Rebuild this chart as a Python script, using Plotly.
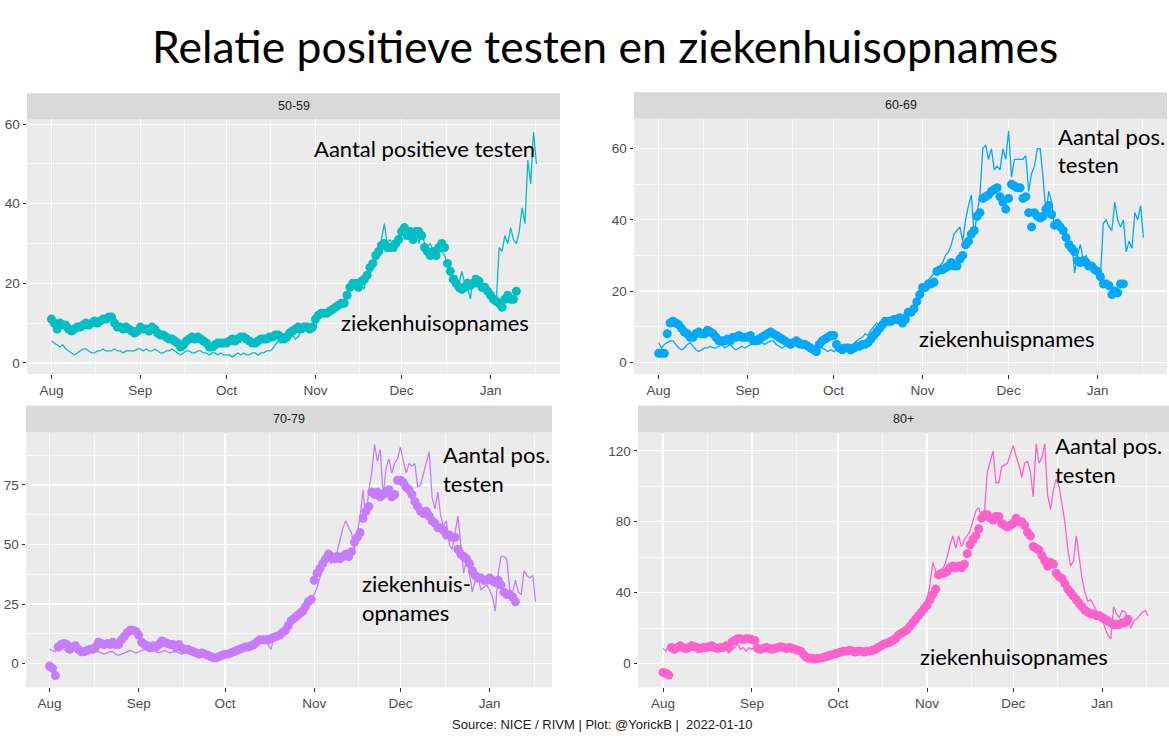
import plotly.graph_objects as go
import pandas as pd

# ---------------- data (daily, starting 2021-08-01) ----------------
# scaled number of positive tests (line) per age group, Aug 1 .. Jan 17
pos_5059 = [
    5.5, 5, 4.5, 4, 4.5, 3.5, 3, 2.5, 2, 2.5, 3, 3.5, 3.5, 3, 2.5, 2.5, 3, 3, 3.5, 3, 3, 3, 3.5, 3, 3, 2.5, 3, 3, 3, 3, 3.5,
    3.5, 3, 3.5, 3, 3, 3.5, 3, 2.5, 2.5, 3, 3, 3.5, 3, 2.5, 2, 2.5, 3, 3, 2.5, 2.5, 3, 3, 2.5, 2.5, 2, 2.5, 2.5, 2, 2.5, 2,
    2, 2, 1.5, 2, 2.5, 2, 2.5, 2, 2, 2.5, 2.5, 2, 2.5, 2.5, 3, 3, 3.5, 4.5, 5.5, 5, 5.5, 6.5, 6, 7, 6, 6.5, 8.5, 8, 9, 8.5, 8.5,
    9, 11, 12, 12, 13, 12.5, 13, 13.5, 14, 15, 16, 17, 19, 20, 20, 21, 20, 18.5, 23, 22, 25, 26, 28, 31, 35, 30, 31, 29, 28, 31,
    34, 31, 33, 32, 33, 34, 30, 33, 30, 29, 30, 28, 29, 28, 28, 27, 25, 22, 21, 22, 20, 23, 20, 19, 16, 22, 19, 20, 18, 20, 19,
    18, 17, 15, 29, 28, 32, 30, 34, 31, 30, 33, 39, 35, 51, 45, 58, 50,
]
pos_6069 = [
    5.5, 4, 5, 5.5, 6, 6, 5, 4, 3.5, 4, 5, 5.5, 4.5, 3.5, 3, 3.5, 4, 4, 4.5, 4, 4, 4.5, 5, 4, 4.5, 5, 4, 3.5, 4, 4.5, 4,
    4.5, 5, 5, 6, 5, 5.5, 5, 5.5, 6, 6, 5, 4.5, 4, 4.5, 5, 5.5, 5, 4.5, 4, 4.5, 4, 3.5, 3, 3, 3.5, 4, 4, 3.5, 3, 3.5,
    3, 3.5, 3, 3.5, 4, 4.5, 4, 5, 6, 6.5, 7, 8, 7.5, 9, 10, 11, 10.5, 10, 11, 10.5, 11, 12, 11.5, 12, 13, 14, 13.5, 15, 16, 17, 18,
    19, 21, 23, 24, 25, 26, 27, 28, 30, 31, 33, 36, 37, 38, 34, 40, 44, 47, 36, 42, 47, 60, 61, 57, 60, 54, 55, 54, 60, 57,
    65, 52, 57, 57, 57, 57, 58, 48, 53, 55, 60, 60, 52, 42, 48, 45, 38, 40, 38, 37, 35, 33, 34, 25, 30, 33, 29, 30, 28, 27, 26,
    25, 24, 39, 40, 38, 37, 45, 40, 38, 40, 31, 34, 32, 42, 40, 44, 35,
]
pos_7079 = [
    6, 5.5, 5, 7, 6.5, 6, 5, 4.5, 5, 6, 5.5, 5, 4, 4.5, 5, 5.5, 5, 5, 4.5, 4, 4.5, 5, 5, 4, 3.5, 4, 4.5, 5, 5.5, 5, 4.5,
    5, 5.5, 6, 5.5, 5, 5.5, 5, 4.5, 5, 5.5, 5, 4.5, 5, 5, 4.5, 4, 4.5, 5, 4.5, 4, 3.5, 4, 3.5, 3, 3, 3.5, 3, 2.5, 3, 3.5,
    3, 3.5, 4, 4.5, 4.5, 5, 5.5, 6, 6.5, 7, 7.5, 8, 9, 10, 9, 8, 6, 11, 10, 12, 13, 15, 17, 19, 20, 21, 23, 22, 25, 27, 28,
    29, 32, 36, 40, 46, 44, 42, 45, 47, 52, 57, 60, 57, 55, 48, 55, 62, 73, 60, 73, 80, 92, 85, 90, 70, 82, 86, 80, 84, 86,
    91, 85, 80, 84, 83, 84, 74, 75, 80, 84, 89, 70, 65, 72, 62, 58, 60, 50, 48, 55, 62, 50, 38, 44, 38, 30, 35, 36, 31, 32, 33,
    31, 28, 22, 38, 45, 45, 44, 31, 30, 35, 30, 29, 39, 37, 36, 37, 26,
]
pos_80 = [
    8.5, 7, 11, 8, 9, 8, 9, 7, 8, 10, 9, 8, 6, 8, 9, 10, 8, 9, 7, 8, 10, 9, 8, 6, 8, 9, 11, 8, 9, 7, 9,
    8, 10, 9, 7, 9, 8, 10, 9, 8, 10, 9, 7, 9, 10, 8, 7, 6, 7, 5, 4, 3.5, 3, 4, 3, 4, 4.5, 4, 5, 5.5, 6,
    6, 7, 8, 7, 6, 7, 8, 7, 6, 7, 8, 6, 7, 8, 9, 10, 11, 12, 10, 11, 14, 16, 15, 19, 18, 22, 24, 25, 28, 30, 33,
    36, 45, 57, 52, 50, 53, 55, 60, 67, 72, 65, 72, 66, 70, 72, 75, 80, 86, 88, 82, 86, 108, 114, 120, 102, 102, 111, 112, 113, 118,
    123, 117, 112, 105, 113, 114, 108, 94, 124, 113, 116, 124, 95, 87, 98, 104, 100, 90, 80, 65, 55, 58, 72, 60, 48, 40, 35, 36, 33, 30, 28,
    25, 20, 16, 14, 32, 28, 26, 30, 29, 25, 20, 24, 25, 27, 29, 30, 27,
]

# hospital admissions (points) per age group, Aug 1 .. Jan 10
adm_5059 = [
    11, 10, 8.5, 10, 9.5, 9.5, 8.5, 8, 8.5, 9, 9, 9.5, 10, 9.5, 10, 10.5, 10, 10.5, 11, 11, 11.5, 11.5, 10, 9, 9, 8.5, 9, 8.5, 8, 7.5, 8,
    9, 8.5, 8.5, 8, 9, 8.5, 7.5, 7, 7, 6.5, 6, 6, 5.5, 5, 4, 4.5, 5.5, 6, 6.5, 6, 6.5, 6, 5.5, 5, 4, 4, 4.5, 5, 5, 5,
    5, 5.5, 6, 5.5, 6, 6.5, 6.5, 6, 5.5, 5, 5, 5.5, 6, 6, 6, 6.5, 6.5, 7, 7, 6.5, 6, 6.5, 7.5, 8, 8.5, 9, 8.5, 9, 9, 8.5, 9,
    11, 12, 12.5, 12.5, 12.5, 13, 13.5, 14, 14.5, 15, 15, 17, 19, 20, 20, 19, 20.5, 21, 22, 24, 25, 27, 28, 29.5, 30, 29, 29, 29, 30, 31,
    33, 34, 32, 33, 31, 33, 33, 32, 29, 28, 27, 28, 27, 29, 30, 29, 25, 23, 21, 20, 19, 18.5, 19, 20, 19.5, 20, 21, 20.5, 19, 19, 18,
    17, 16, 15.5, 15, 14, 16, 17, 16, 16, 18,
]
adm_6069 = [
    2.5, 2.5, 2.5, 8, 11, 11.5, 11, 10.5, 9.5, 8.5, 8, 7, 7, 8, 8.5, 8, 8, 9, 8.5, 8, 7, 6, 6, 6, 6.5, 6, 7, 7, 7.5, 7, 7,
    7, 7.5, 6, 6, 6.5, 7, 7.5, 8, 8.5, 8, 7.5, 7, 6.5, 6, 5.5, 5, 5.5, 6, 5.5, 5, 5, 4.5, 4, 3.5, 3, 5, 6, 6.5, 7, 7.5,
    7.5, 5, 4, 3.5, 4, 4, 3.5, 4, 4.5, 4.5, 5, 5, 5.5, 6.5, 7.5, 8.5, 9.5, 10.5, 11.5, 11.5, 11.5, 12, 12, 12.5, 11, 12, 14, 14, 15, 17, 19,
    21, 21, 22, 22, 22.5, 25.5, 26, 26, 26.5, 27, 28, 27, 27, 29, 30, 33, 34, 36, 37, 41, 42, 46, 46.5, 47, 48, 48.5, 49, 46.5, 45, 43,
    46, 50, 49.5, 49, 49, 46, 46.5, 42, 38, 42, 41, 40.5, 41, 43, 44, 41.5, 38.5, 39, 38, 37, 35, 33, 32, 31, 28.5, 28, 28.5, 28, 27, 27, 26,
    25.5, 24, 22, 22, 21.5, 19, 20, 19.5, 22, 22,
]
adm_7079 = [
    -1, -2, -5, 7, 8, 8.5, 8, 6, 7, 7.5, 6, 5, 5, 5.5, 6, 6, 7, 9, 8.5, 8, 8.5, 8, 9, 8, 8, 10, 11.5, 13, 14, 14, 13.5,
    12, 9, 8, 7.5, 7, 7.5, 7, 8, 9.5, 9, 8.5, 8, 8, 7, 8, 6.5, 6, 6, 5.5, 5, 4.5, 4, 4.5, 4, 3.5, 3, 2.5, 2.5, 3, 3.5,
    4, 4, 4.5, 5, 5.5, 6, 6.5, 7, 7, 7.5, 8, 9, 10, 10, 10, 10, 10.5, 11, 11.5, 12, 13, 14, 16, 18, 19, 20, 21, 22, 24, 26, 27,
    35, 38, 40, 42, 44, 46, 45, 44, 45, 44, 45, 46, 45, 47, 51, 53, 55, 61, 64, 66, 72, 71, 72, 70, 71, 72, 73, 70, 71, 77,
    77, 76, 74, 73, 71, 68, 66, 64, 63, 64, 62, 60, 59, 57, 57, 56, 54, 54, 53, 53, 48, 46, 45, 44, 42, 39, 37, 36, 36, 35, 35,
    36, 35, 34, 35, 33, 30, 29, 29, 28, 26,
]
adm_80 = [
    -5, -5.5, -6.5, 9, 8, 9, 10, 9, 8.5, 9, 10, 9.5, 9, 8.5, 9, 9, 9.5, 10, 9, 8.5, 9, 9, 10, 9, 12, 13, 14, 14, 13.5, 14, 14,
    13.5, 13, 8.5, 8, 8.5, 9, 8.5, 8, 8.5, 9, 9.5, 9, 8.5, 9, 8.5, 8, 7.5, 7, 5, 3.5, 3, 3, 2.5, 3, 3, 3.5, 4, 4.5, 5, 5.5,
    6, 6.5, 7, 7, 7.5, 7, 6.5, 7, 7, 6.5, 7, 7, 7.5, 8, 9, 10, 11, 11.5, 12, 13, 14, 16, 17, 18, 19, 21, 23, 25, 27, 29, 31,
    33, 36, 39, 42, 50, 51, 51, 52, 54, 55, 54, 55, 54, 56, 62, 67, 70, 72, 76, 82, 84, 84, 82, 81, 83, 83, 79, 78, 77, 78,
    79, 82, 80, 80, 78, 74, 72, 66, 65, 64, 61, 58, 55, 57, 56, 51, 49, 48, 45, 42, 40, 38, 36, 34, 32, 30, 29, 28, 28, 27, 27,
    26, 25, 24, 23, 22, 22, 22, 23, 23, 25,
]

age_groups = ["50-59", "60-69", "70-79", "80+"]
colors = ["#00BFC4", "#00A9FF", "#C77CFF", "#FF61CC"]
y_ticks = [[0, 20, 40, 60], [0, 20, 40, 60], [0, 25, 50, 75], [0, 40, 80, 120]]
start = "2021-08-01"

W, H = 1169, 756
def fx(px):
    return px / W
def fy(py):
    return 1 - py / H

# layout of the four panels (pixel boxes in the 1169x756 canvas)
panels = [
    dict(pos=pos_5059, adm=adm_5059, xd=(27, 560), yd=(117.7, 373), strip=(91.5, 117.7),
         yr=(-2.8, 61.2), xr=("2021-07-23 12:00", "2022-01-25 05:00")),
    dict(pos=pos_6069, adm=adm_6069, xd=(634, 1167), yd=(117, 373.3), strip=(90.5, 117),
         yr=(-3.4, 68.4), xr=("2021-07-23 10:00", "2022-01-25 05:00")),
    dict(pos=pos_7079, adm=adm_7079, xd=(26, 552), yd=(431.7, 687.3), strip=(404.5, 431.7),
         yr=(-10.0, 97.0), xr=("2021-07-23 19:00", "2022-01-22 17:00")),
    dict(pos=pos_80, adm=adm_80, xd=(638, 1169), yd=(431.7, 687.3), strip=(404.5, 431.7),
         yr=(-13.5, 130.3), xr=("2021-07-23 07:00", "2022-01-24 07:00")),
]

fig = go.Figure()
shapes = []
annotations = []
layout_axes = {}

tick_font = dict(family="Liberation Sans, Arial, sans-serif", size=13.5, color="#4D4D4D")

for i, p in enumerate(panels):
    n = i + 1
    xa = "x" if n == 1 else f"x{n}"
    ya = "y" if n == 1 else f"y{n}"
    d_pos = pd.date_range(start, periods=len(p["pos"]), freq="D")
    d_adm = pd.date_range(start, periods=len(p["adm"]), freq="D")
    fig.add_trace(go.Scatter(x=d_adm, y=p["adm"], mode="markers",
                             marker=dict(color=colors[i], size=9, line=dict(width=0)),
                             xaxis=xa, yaxis=ya, showlegend=False, hoverinfo="skip"))
    fig.add_trace(go.Scatter(x=d_pos, y=p["pos"], mode="lines",
                             line=dict(color=colors[i], width=1.3),
                             xaxis=xa, yaxis=ya, showlegend=False, hoverinfo="skip"))
    yt = y_ticks[i]
    step = yt[1] - yt[0]
    layout_axes["xaxis" if n == 1 else f"xaxis{n}"] = dict(
        domain=[fx(p["xd"][0]), fx(p["xd"][1])], anchor=ya, type="date",
        range=list(p["xr"]), tickmode="linear", tick0="2021-08-01", dtick="M1",
        tickformat="%b", ticks="outside", ticklen=3.5, tickwidth=1, tickcolor="#333333",
        showgrid=True, gridcolor="white", gridwidth=1.3, zeroline=False, showline=False,
        tickfont=tick_font,
        minor=dict(tick0="2021-07-16 12:00", dtick="M1", showgrid=True,
                   gridcolor="white", gridwidth=0.6, ticks=""),
    )
    layout_axes["yaxis" if n == 1 else f"yaxis{n}"] = dict(
        domain=[fy(p["yd"][1]), fy(p["yd"][0])], anchor=xa,
        range=list(p["yr"]), tickmode="array", tickvals=yt, ticktext=[str(v) for v in yt],
        ticks="outside", ticklen=3.5, tickwidth=1, tickcolor="#333333",
        showgrid=True, gridcolor="white", gridwidth=1.3, zeroline=False, showline=False,
        tickfont=tick_font,
        minor=dict(tick0=step / 2, dtick=step, showgrid=True, gridcolor="white",
                   gridwidth=0.6, ticks=""),
    )
    # facet strip
    shapes.append(dict(type="rect", xref="paper", yref="paper",
                       x0=fx(p["xd"][0]), x1=fx(p["xd"][1]),
                       y0=fy(p["strip"][1]), y1=fy(p["strip"][0]),
                       fillcolor="#D9D9D9", line=dict(width=0), layer="below"))
    annotations.append(dict(xref="paper", yref="paper",
                            x=fx((p["xd"][0] + p["xd"][1]) / 2),
                            y=fy((p["strip"][0] + p["strip"][1]) / 2),
                            text=age_groups[i], showarrow=False,
                            xanchor="center", yanchor="middle",
                            font=dict(family="Liberation Sans, Arial, sans-serif",
                                      size=12.5, color="#1A1A1A")))

# hand-placed labels (as on the slide)
label_font = dict(family="Lato, sans-serif", size=22, color="black")
labels = [
    ("Aantal positieve testen", 312, 147),
    ("ziekenhuisopnames", 339, 321),
    ("Aantal pos.", 1056, 135),
    ("testen", 1056, 163),
    ("ziekenhuispnames", 917, 337),
    ("Aantal pos.", 441, 454),
    ("testen", 441, 483),
    ("ziekenhuis-", 360, 583),
    ("opnames", 360, 612),
    ("Aantal pos.", 1053, 445),
    ("testen", 1053, 474),
    ("ziekenhuisopnames", 918, 656),
]
for txt, lx, ly in labels:
    annotations.append(dict(xref="paper", yref="paper", x=fx(lx), y=fy(ly), text=txt,
                            showarrow=False, xanchor="left", yanchor="middle",
                            font=label_font))

# title and caption
annotations.append(dict(xref="paper", yref="paper", x=fx(605), y=fy(44),
                        text="Relatie positieve testen en ziekenhuisopnames",
                        showarrow=False, xanchor="center", yanchor="middle",
                        font=dict(family="Lato, sans-serif", size=44.5, color="black")))
annotations.append(dict(xref="paper", yref="paper", x=fx(602), y=fy(724),
                        text="Source: NICE / RIVM | Plot: @YorickB |  2022-01-10",
                        showarrow=False, xanchor="center", yanchor="middle",
                        font=dict(family="Liberation Sans, Arial, sans-serif",
                                  size=13, color="#1A1A1A")))

fig.update_layout(
    width=W, height=H,
    margin=dict(l=0, r=0, t=0, b=0),
    paper_bgcolor="white", plot_bgcolor="#EBEBEB",
    shapes=shapes, annotations=annotations, showlegend=False,
    **layout_axes,
)

fig.write_html("out.html",
               config={"displayModeBar": False, "staticPlot": True},
               post_script="document.body.style.margin='0px';document.body.style.overflow='hidden';")
